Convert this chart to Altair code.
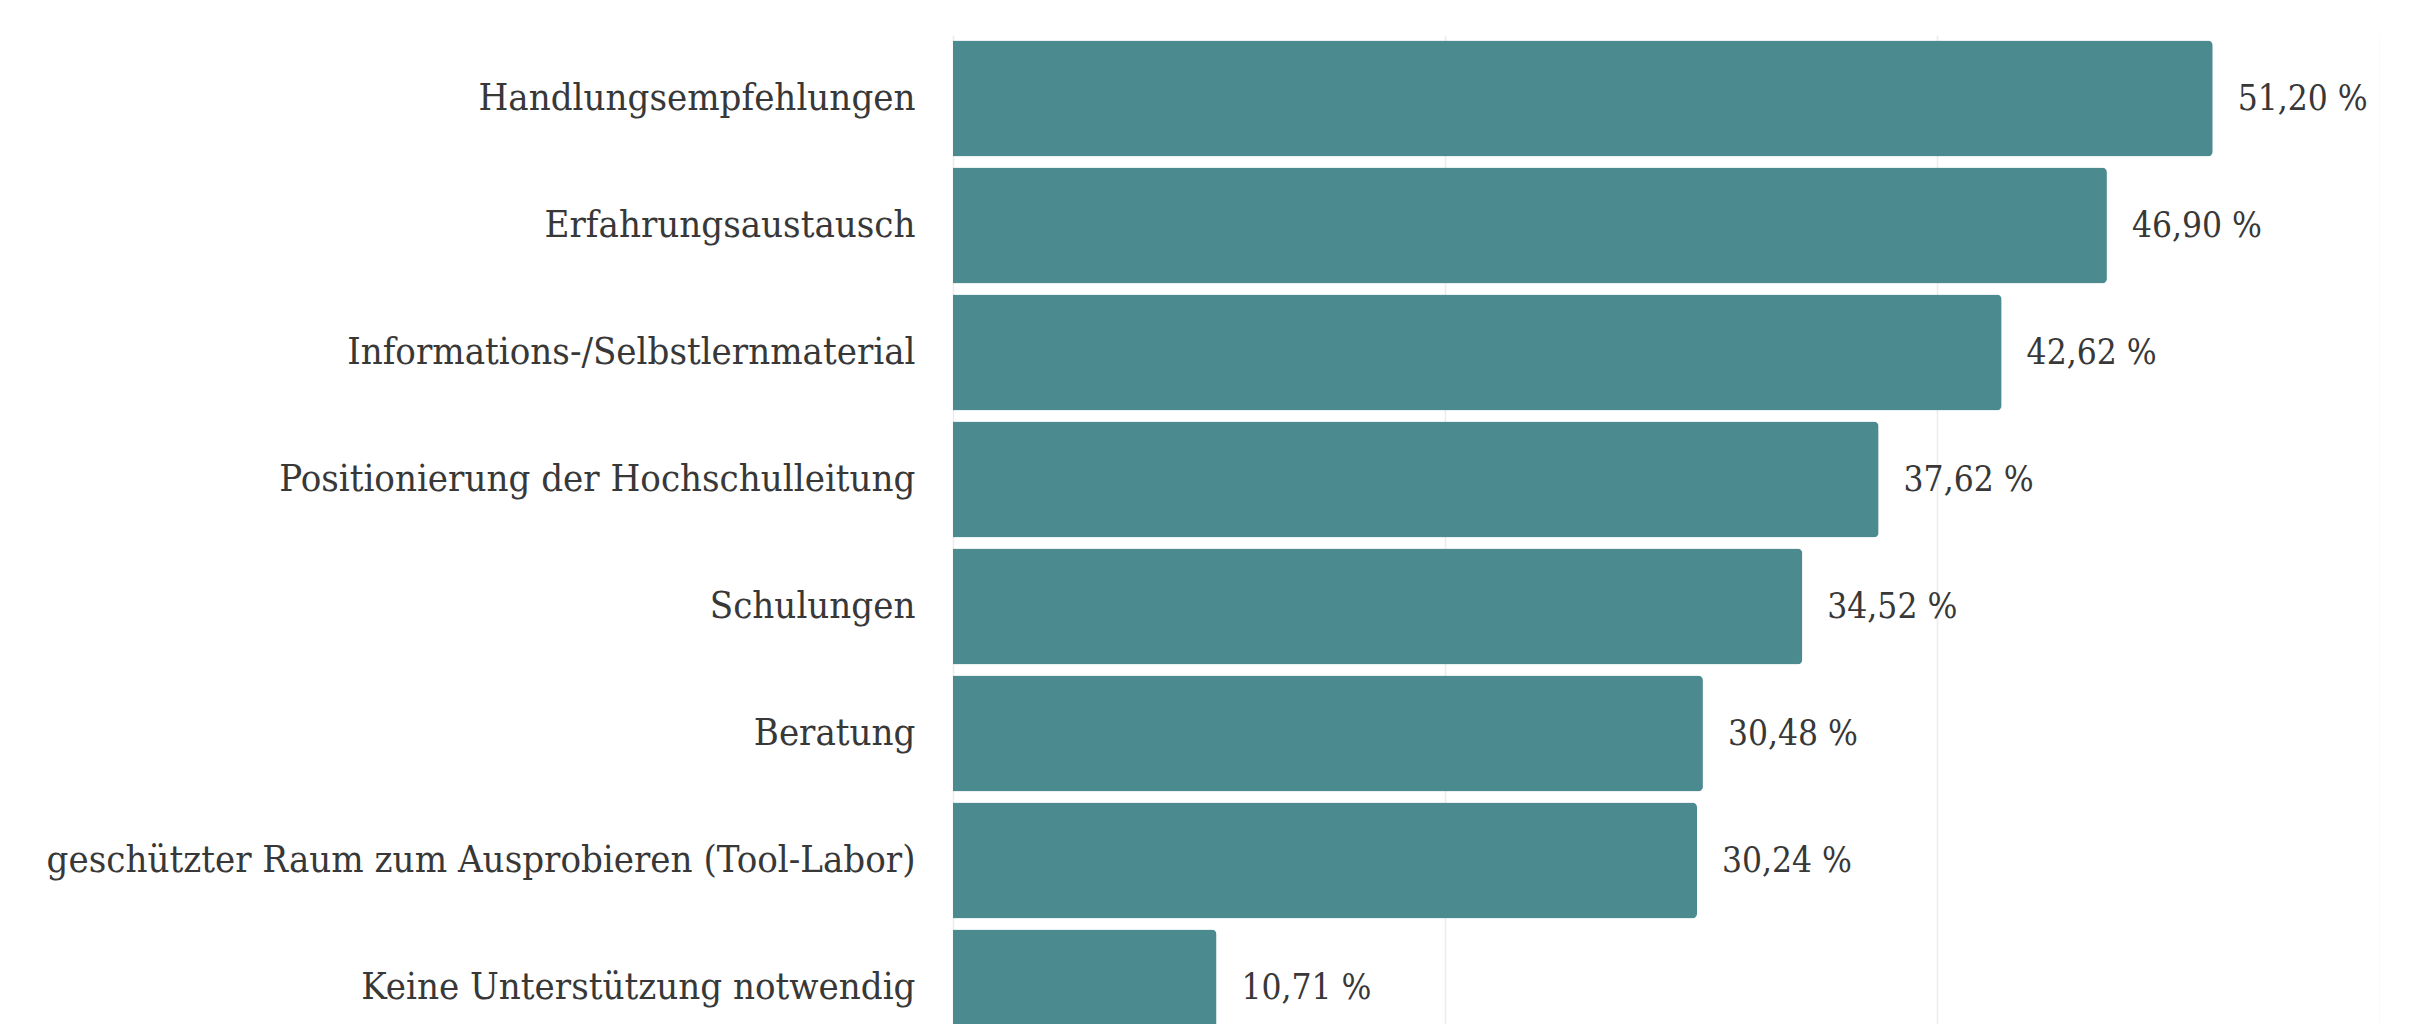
import altair as alt
import pandas as pd

categories = [
    "Handlungsempfehlungen",
    "Erfahrungsaustausch",
    "Informations-/Selbstlernmaterial",
    "Positionierung der Hochschulleitung",
    "Schulungen",
    "Beratung",
    "geschützter Raum zum Ausprobieren (Tool-Labor)",
    "Keine Unterstützung notwendig",
]
values = [51.20, 46.90, 42.62, 37.62, 34.52, 30.48, 30.24, 10.71]
grid_values = [0, 20, 40, 58]

df = pd.DataFrame({"cat": categories, "val": values})
df["label"] = [f"{v:.2f}".replace(".", ",") + " %" for v in values]

FONT = "'DejaVu Serif Condensed', 'DejaVu Sans Condensed', 'Roboto Condensed', 'Liberation Sans Narrow', 'Noto Sans', sans-serif"
BAR = "#4b8a8f"
TXT = "#383838"

y_enc = alt.Y(
    "cat:N",
    sort=categories,
    title=None,
    scale=alt.Scale(paddingInner=0.087, paddingOuter=0.0435),
    axis=alt.Axis(
        labelFont=FONT,
        labelFontSize=38,
        labelColor=TXT,
        labelPadding=38,
        labelLimit=2000,
        ticks=False,
        domain=False,
        grid=False,
        minExtent=945,
        maxExtent=945,
    ),
)
x_enc = alt.X(
    "val:Q",
    title=None,
    scale=alt.Scale(domain=[0, 58], nice=False, zero=True),
    axis=alt.Axis(
        values=grid_values,
        labels=False,
        ticks=False,
        domain=False,
        grid=True,
        gridColor="#ececec",
        gridWidth=1.5,
    ),
)

bars = alt.Chart(df).mark_bar(
    color=BAR,
    cornerRadiusTopRight=5,
    cornerRadiusBottomRight=5,
).encode(x=x_enc, y=y_enc)

labels = alt.Chart(df).mark_text(
    align="left",
    baseline="middle",
    dx=25,
    font=FONT,
    fontSize=35,
    color=TXT,
).encode(
    x=alt.X("val:Q", scale=alt.Scale(domain=[0, 58], nice=False, zero=True)),
    y=alt.Y("cat:N", sort=categories),
    text="label:N",
)

chart = (
    alt.layer(bars, labels)
    .properties(
        width=1427,
        height=1016,
        padding={"left": 0, "top": 27, "right": 0, "bottom": 0},
    )
    .configure_view(stroke=None)
)

chart.save("out.html", embed_options={"renderer": "svg", "actions": False})
